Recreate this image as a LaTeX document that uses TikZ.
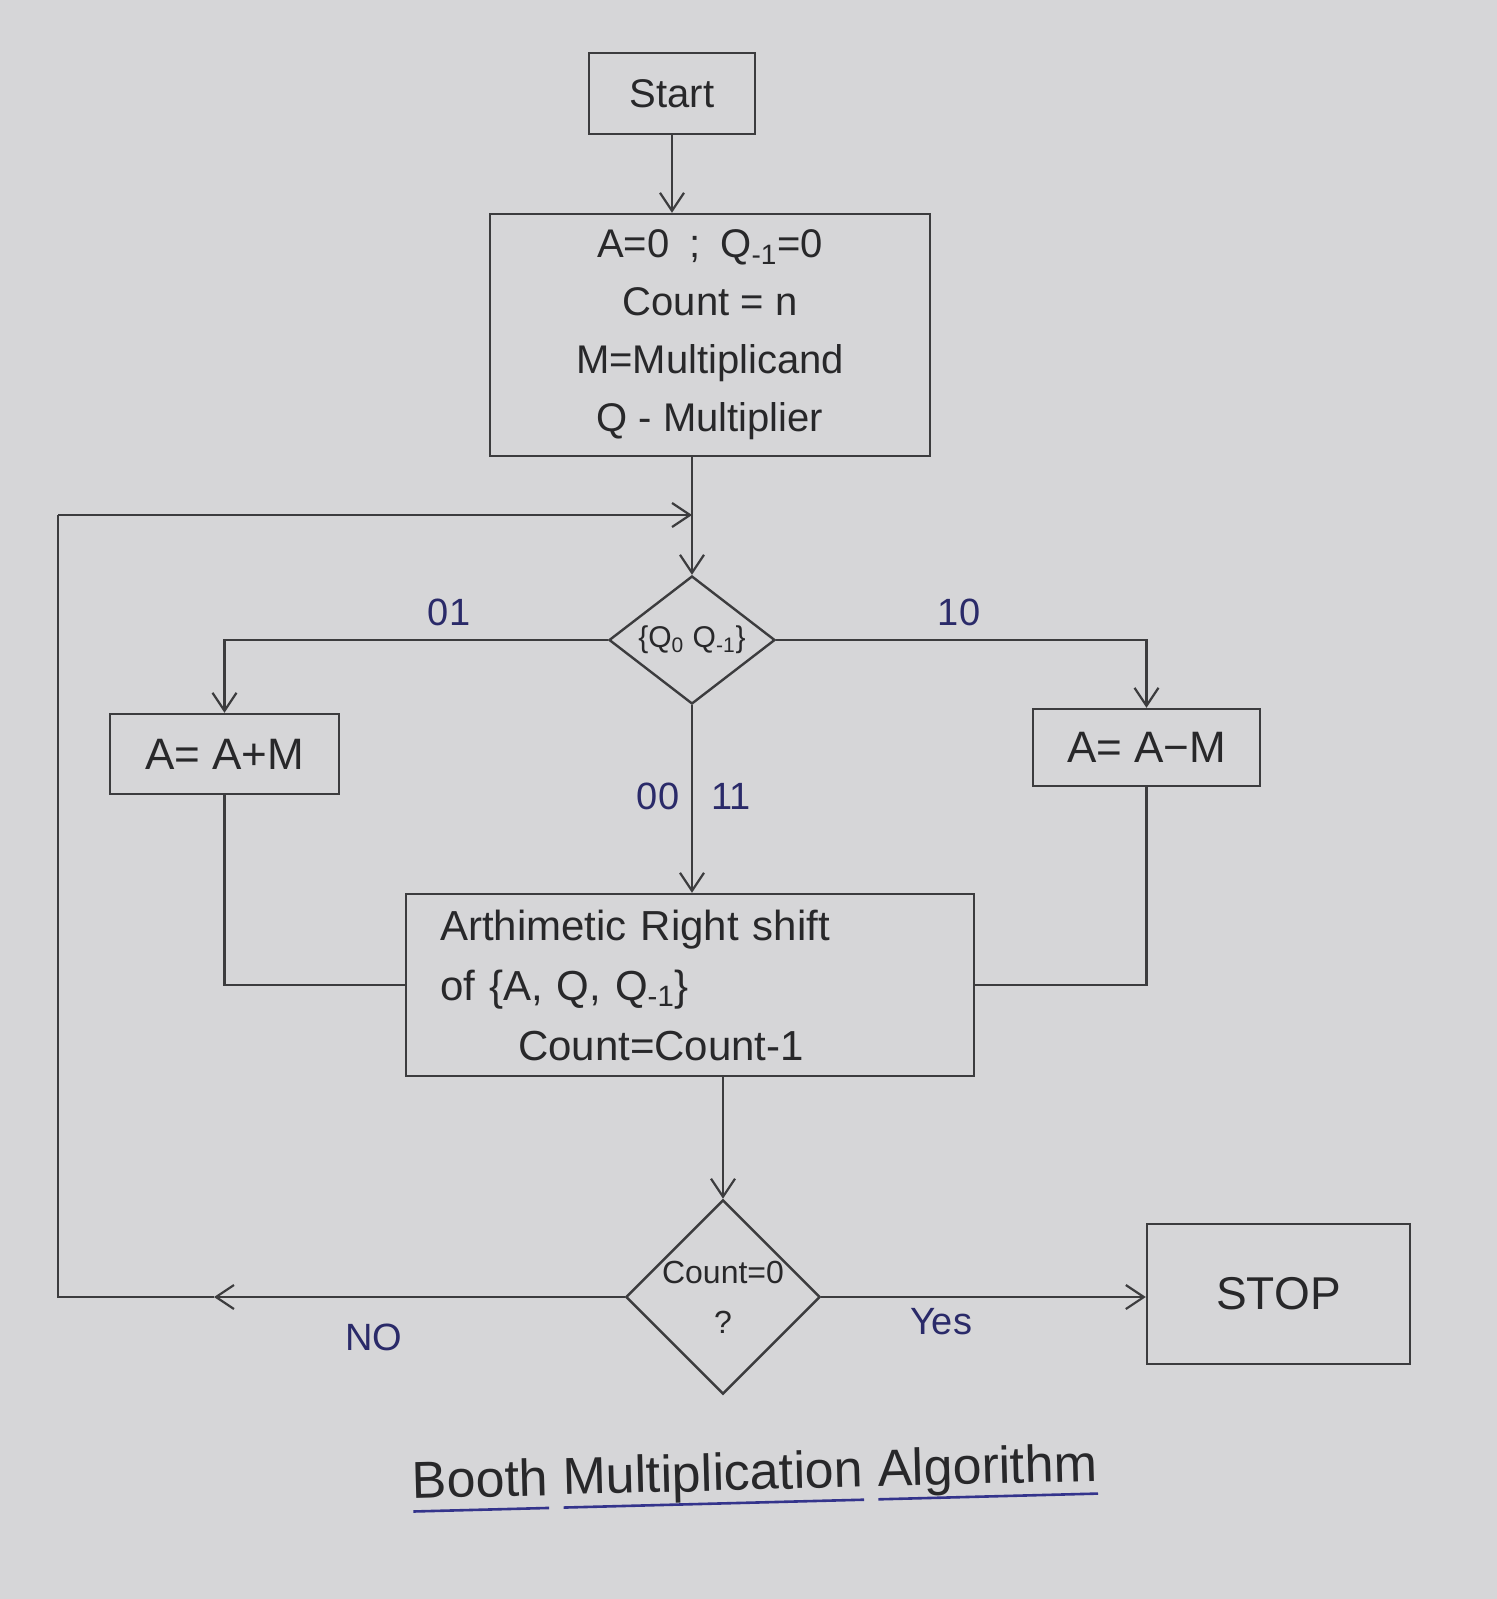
\documentclass[tikz,border=0pt]{standalone}
\usepackage{fontspec}
\setmainfont{Liberation Sans}
\usetikzlibrary{shapes.geometric,arrows.meta}
\definecolor{paper}{RGB}{214,214,216}
\definecolor{pencil}{RGB}{60,60,62}
\definecolor{ink}{RGB}{40,40,42}
\definecolor{navy}{RGB}{42,42,105}
\definecolor{uline}{RGB}{52,52,140}
\newcommand\ulword[1]{\setbox0\hbox{#1}\rlap{\textcolor{uline}{\rule[-7pt]{\wd0}{1.3pt}}}\box0\relax}
\begin{document}
\begin{tikzpicture}[x=0.5pt,y=-0.5pt,
  box/.style={draw=pencil, line width=1.2pt, text=ink, inner sep=0pt},
  dec/.style={diamond, draw=pencil, line width=1.2pt, text=ink, inner sep=0pt},
  conn/.style={draw=pencil, line width=1.1pt},
  arr/.style={conn, -{Straight Barb[length=9pt,width=12pt]}},
  lbl/.style={text=navy, font=\fontsize{19}{22}\selectfont}
]
\fill[paper] (0,0) rectangle (1497,1599);
\useasboundingbox (0,0) rectangle (1497,1599);

\node[box, minimum width=83pt, minimum height=40.5pt, font=\fontsize{20}{24}\selectfont] (start) at (672,93.5) {Start};
\node[box, minimum width=220pt, minimum height=121pt, align=center, font=\fontsize{20}{29}\selectfont] (init) at (710,335)
  {A=0\enspace;\enspace Q\textsubscript{-1}=0\\Count = n\\M=Multiplicand\\Q - Multiplier};
\node[dec, aspect=1.3, minimum width=83pt, minimum height=64pt, font=\fontsize{15}{18}\selectfont] (qd) at (692,640)
  {\{Q\textsubscript{0} Q\textsubscript{-1}\}};
\node[box, minimum width=114.5pt, minimum height=40pt, font=\fontsize{22}{26}\selectfont] (aplus) at (224.5,754) {A= A+M};
\node[box, minimum width=113.5pt, minimum height=38.5pt, font=\fontsize{22}{26}\selectfont] (aminus) at (1146.5,747.5) {A= A−M};
\node[box, minimum width=284pt, minimum height=91pt, inner xsep=17pt, text width=250pt, align=left, font=\fontsize{21}{30}\selectfont] (shift) at (690,985)
  {Arthimetic Right shift\\of \{A, Q, Q\textsubscript{-1}\}\\\hspace*{39pt}Count=Count-1};
\node[dec, minimum width=96pt, minimum height=96pt, align=center, font=\fontsize{16}{25}\selectfont] (cd) at (723,1297) {Count=0\\?};
\node[box, minimum width=131.5pt, minimum height=70pt, font=\fontsize{23}{26}\selectfont] (stop) at (1278.5,1294) {STOP};

\coordinate (lft) at (58,515);
\coordinate (noarrx) at (214,0);

\draw[arr] (start.south) -- (start.south |- init.north);
\draw[arr] (init.south -| qd.north) -- (qd.north);
\draw[arr] (qd.west) -| (aplus.north);
\draw[arr] (qd.east) -| (aminus.north);
\draw[arr] (qd.south) -- (qd.south |- shift.north);
\draw[conn] (aplus.south) |- (shift.west);
\draw[conn] (aminus.south) |- (shift.east);
\draw[arr] (shift.south -| cd.north) -- (cd.north);
\draw[arr] (cd.east) -- (cd.east -| stop.west);
\draw[arr] (cd.west) -- (cd.west -| noarrx);
\draw[conn] (cd.west -| noarrx) -- (cd.west -| lft) -- (lft);
\draw[arr] (lft) -- (lft -| qd.north);

\node[lbl] (l01) at (449,612) {01};
\node[lbl] (l10) at (959,612) {10};
\node[lbl] (l00) at (658,796) {00};
\node[lbl] (l11) at (731,796) {11};
\node[lbl] (lno) at (374,1337) {NO};
\node[lbl] (lyes) at (941,1322) {Yes};

\node[text=ink, rotate=1.5, font=\fontsize{26}{30}\selectfont] (title) at (755,1478)
  {\ulword{Booth} \ulword{Multiplication} \ulword{Algorithm}};
\end{tikzpicture}
\end{document}
